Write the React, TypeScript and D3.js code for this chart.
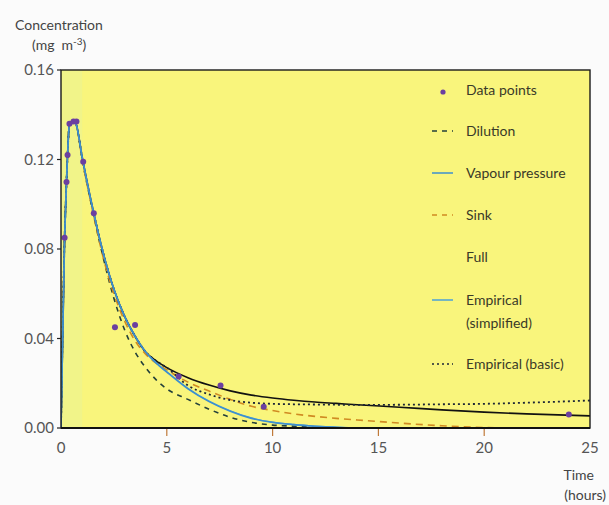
import React from 'react';
import * as d3 from 'd3';

// sample times (hours) shared by all model curves
const times = [0, 0.17, 0.26, 0.31, 0.4, 0.55, 0.7, 1, 1.5, 2, 2.5, 3, 3.5, 4, 4.5, 5, 6, 7, 8, 9, 10, 11, 12, 13, 14, 16, 18, 20, 22, 25];

const dilution = [0, 0.085, 0.11, 0.122, 0.136, 0.137, 0.136, 0.12, 0.097, 0.076, 0.058, 0.044, 0.034, 0.027, 0.0215, 0.0175, 0.0128, 0.0084, 0.0048, 0.0025, 0.0013, 0.0008, 0.0004, 0.0001, 0, 0, 0, 0, 0, 0];
const vapour = [0, 0.085, 0.11, 0.122, 0.136, 0.137, 0.136, 0.121, 0.098, 0.078, 0.062, 0.05, 0.041, 0.034, 0.029, 0.025, 0.0175, 0.0118, 0.0075, 0.0043, 0.0025, 0.0015, 0.0008, 0.0003, 0, 0, 0, 0, 0, 0];
const sink = [0, 0.085, 0.11, 0.122, 0.136, 0.137, 0.136, 0.12, 0.097, 0.076, 0.06, 0.048, 0.039, 0.033, 0.029, 0.026, 0.0205, 0.0165, 0.0128, 0.0097, 0.0078, 0.0063, 0.0052, 0.0043, 0.0036, 0.0022, 0.001, 0.0002, 0, 0];
const full = [0, 0.085, 0.11, 0.122, 0.136, 0.137, 0.136, 0.121, 0.098, 0.078, 0.062, 0.05, 0.041, 0.034, 0.03, 0.027, 0.0225, 0.0192, 0.0166, 0.0147, 0.0134, 0.0124, 0.0116, 0.011, 0.0104, 0.0093, 0.0081, 0.0071, 0.0063, 0.0054];
const empSimplified = [0, 0.085, 0.11, 0.122, 0.136, 0.137, 0.136, 0.121, 0.098, 0.078, 0.062, 0.05, 0.041, 0.034, 0.0292, 0.0252, 0.0178, 0.012, 0.0077, 0.0045, 0.0026, 0.0016, 0.0009, 0.0004, 0.0001, 0, 0, 0, 0, 0];
const empBasic = [0, 0.085, 0.11, 0.122, 0.136, 0.137, 0.136, 0.121, 0.098, 0.078, 0.062, 0.05, 0.041, 0.034, 0.03, 0.027, 0.019, 0.015, 0.0125, 0.0113, 0.0108, 0.0106, 0.0105, 0.0104, 0.0103, 0.0104, 0.0106, 0.0108, 0.0113, 0.0123];

// measured concentrations
const pointTimes = [0.17, 0.26, 0.31, 0.4, 0.59, 0.73, 1.05, 1.55, 2.55, 3.5, 5.56, 7.54, 9.58, 24.0];
const pointValues = [0.085, 0.11, 0.122, 0.136, 0.137, 0.137, 0.119, 0.096, 0.045, 0.046, 0.023, 0.019, 0.0095, 0.006];

const xTicks = [0, 5, 10, 15, 20, 25];
const yTicks = [0, 0.04, 0.08, 0.12, 0.16];

const legendItems = [
  { label: ['Data points'], kind: 'dot', color: '#6b3fa0', dash: '' },
  { label: ['Dilution'], kind: 'line', color: '#24403a', dash: '5,5' },
  { label: ['Vapour pressure'], kind: 'line', color: '#3d8fcf', dash: '' },
  { label: ['Sink'], kind: 'line', color: '#d08a22', dash: '5,5' },
  { label: ['Full'], kind: 'none', color: '#111', dash: '' },
  { label: ['Empirical', '(simplified)'], kind: 'line', color: '#4aa0d8', dash: '' },
  { label: ['Empirical (basic)'], kind: 'line', color: '#1c2636', dash: '2,3' },
];

const App = () => {
  const width = 609;
  const height = 505;
  const margin = { top: 70, right: 19, bottom: 77, left: 61 };

  const x = d3.scaleLinear().domain([0, 25]).range([margin.left, width - margin.right]);
  const y = d3.scaleLinear().domain([0, 0.16]).range([height - margin.bottom, margin.top]);

  const line = d3.line<number>()
    .x((_, i) => x(times[i]))
    .y(d => y(d))
    .curve(d3.curveMonotoneX);

  // drawn back to front: blue lines end up on top, as in the original
  const series = [
    { values: full, color: '#111', dash: '', w: 1.6 },
    { values: dilution, color: '#24403a', dash: '5,5', w: 1.6 },
    { values: sink, color: '#d08a22', dash: '7,5', w: 1.6 },
    { values: empBasic, color: '#1c2636', dash: '2,3', w: 1.8 },
    { values: empSimplified, color: '#4aa0d8', dash: '', w: 1.2 },
    { values: vapour, color: '#3d8fcf', dash: '', w: 1.6 },
  ];

  const font = 'Lato, "Open Sans", sans-serif';
  const legendTop = [90, 131, 173, 215, 257, 300, 364];

  return (
    <svg width={width} height={height} style={{ position: 'absolute', left: 0, top: 0, background: '#fbfbfb' }}>
      <defs>
        <clipPath id="plot">
          <rect x={x(0)} y={y(0.16)} width={x(25) - x(0)} height={y(0) - y(0.16)} />
        </clipPath>
      </defs>
      <rect x={x(0)} y={y(0.16)} width={x(25) - x(0)} height={y(0) - y(0.16)} fill="#f9f57c" />
      <rect x={x(0)} y={y(0.16)} width={x(1) - x(0)} height={y(0) - y(0.16)} fill="#eef48e" opacity={0.7} />

      <g clipPath="url(#plot)">
        {series.map((s, i) => (
          <path key={i} d={line(s.values) || ''} fill="none" stroke={s.color} strokeWidth={s.w} strokeDasharray={s.dash} />
        ))}
        {pointTimes.map((t, i) => (
          <circle key={i} cx={x(t)} cy={y(pointValues[i])} r={3} fill="#6b3fa0" />
        ))}
      </g>

      {/* frame */}
      <rect x={x(0)} y={y(0.16)} width={x(25) - x(0)} height={y(0) - y(0.16)} fill="none" stroke="#1a1a1a" strokeWidth={1.4} />
      <line x1={x(0)} x2={x(25)} y1={y(0)} y2={y(0)} stroke="#111" strokeWidth={2} />

      {/* y axis */}
      {yTicks.map(t => (
        <g key={t}>
          <line x1={x(0) - 4} x2={x(0)} y1={y(t)} y2={y(t)} stroke="#222" strokeWidth={1.2} />
          <text x={x(0) - 7} y={y(t)} dy="0.35em" textAnchor="end" fontFamily={font} fontSize={15} fill="#555">
            {d3.format('.2f')(t)}
          </text>
        </g>
      ))}

      {/* x axis */}
      {xTicks.map(t => (
        <g key={t}>
          {t > 0 && t < 25 && (
            <line x1={x(t)} x2={x(t)} y1={y(0) + 1} y2={y(0) + 8} stroke="#c07a3a" strokeWidth={1.2} />
          )}
          <text x={x(t)} y={y(0) + 25} textAnchor="middle" fontFamily={font} fontSize={15} fill="#555">
            {t}
          </text>
        </g>
      ))}

      <text x={594} y={480} textAnchor="end" fontFamily={font} fontSize={14} fill="#444">Time</text>
      <text x={606} y={500} textAnchor="end" fontFamily={font} fontSize={14} fill="#444">(hours)</text>

      <text x={15} y={30} fontFamily={font} fontSize={14} fill="#444">Concentration</text>
      <text x={32} y={50} fontFamily={font} fontSize={14} fill="#444">
        (mg<tspan dx="7">m</tspan><tspan dy="-5" fontSize={10}>-3</tspan><tspan dy="5">)</tspan>
      </text>

      {/* legend */}
      {legendItems.map((item, i) => {
        const ly = legendTop[i];
        return (
          <g key={i}>
            {item.kind === 'dot' && <circle cx={443} cy={ly + 2} r={2.6} fill={item.color} />}
            {item.kind === 'line' && (
              <line x1={432} x2={453} y1={ly} y2={ly} stroke={item.color} strokeWidth={1.5} strokeDasharray={item.dash} />
            )}
            {item.label.map((l, j) => (
              <text key={j} x={466} y={ly + j * 23} dy="0.35em" fontFamily={font} fontSize={14} fill="#3a3a28">
                {l}
              </text>
            ))}
          </g>
        );
      })}
    </svg>
  );
};

export default App;
